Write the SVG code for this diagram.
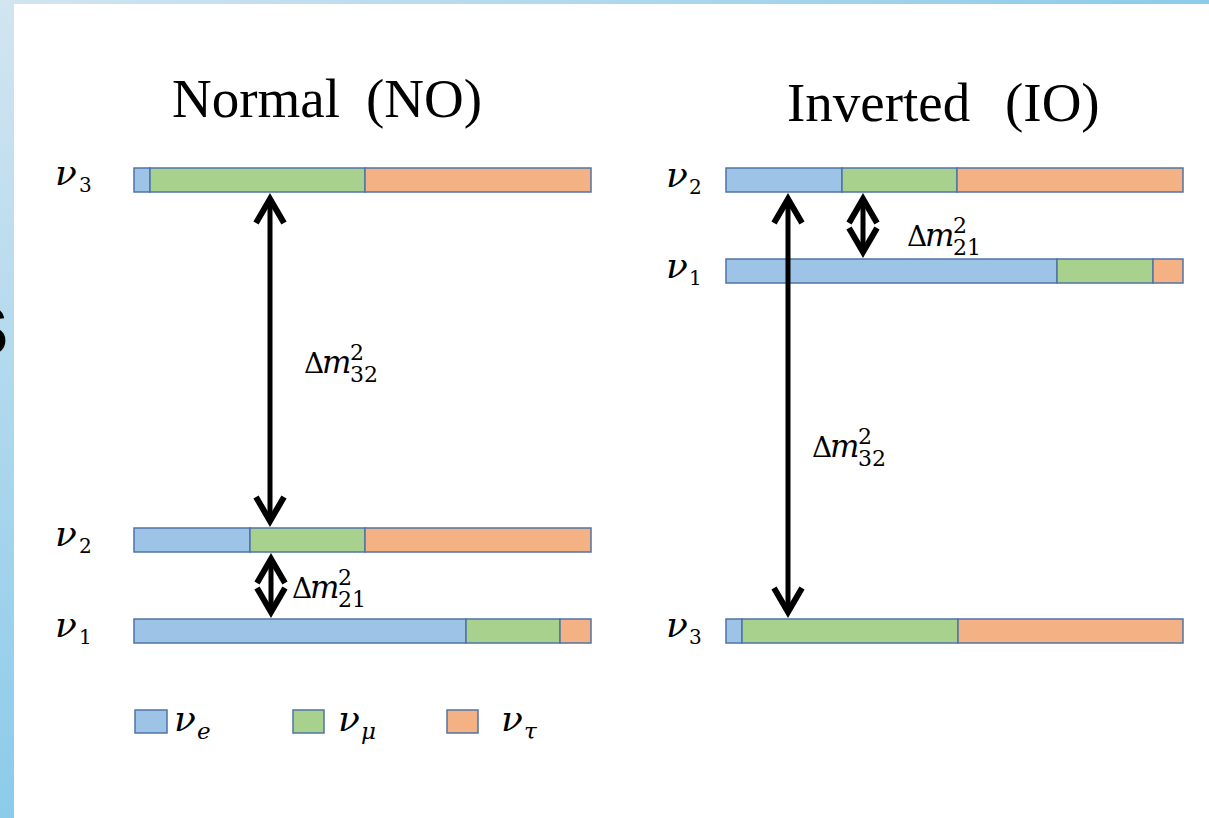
<svg xmlns="http://www.w3.org/2000/svg" width="1209" height="818" viewBox="0 0 1209 818">
<defs>
<linearGradient id="bg" x1="0" y1="0" x2="1" y2="1">
<stop offset="0" stop-color="#d2e5f0"/>
<stop offset="0.5" stop-color="#8ccbea"/>
<stop offset="1" stop-color="#6fbfe8"/>
</linearGradient>
<marker id="ah" markerUnits="userSpaceOnUse" markerWidth="44" markerHeight="44" viewBox="-36 -22 44 44" refX="0" refY="0" orient="auto-start-reverse">
<path d="M-24,-14 L0,0 L-24,14" fill="none" stroke="#000" stroke-width="6" stroke-linejoin="miter"/>
</marker>
<style>
.b{fill:#9dc3e6;stroke:#4f74a8;stroke-width:1.5}
.g{fill:#a9d18e;stroke:#4f74a8;stroke-width:1.5}
.o{fill:#f4b183;stroke:#4f74a8;stroke-width:1.5}
.title{font-family:"Liberation Serif",serif;font-size:55px;fill:#000}
.nu{font-family:"DejaVu Serif",serif;font-size:36px;font-style:italic;fill:#000}
.sub{font-family:"DejaVu Serif",serif;font-size:20px;font-style:normal;fill:#000}
.subi{font-family:"DejaVu Serif",serif;font-size:23px;font-style:italic;fill:#000}
.d{font-family:"DejaVu Serif",serif;font-size:28px;fill:#000}
.mi{font-family:"DejaVu Serif",serif;font-size:31px;font-style:italic;fill:#000}
.ds{font-family:"DejaVu Serif",serif;font-size:22px;fill:#000}
.arr{stroke:#000;stroke-width:5;fill:none;marker-start:url(#ah);marker-end:url(#ah)}
</style>
</defs>
<rect x="0" y="0" width="1209" height="818" fill="url(#bg)"/>
<rect x="14" y="4" width="1195" height="814" fill="#fff"/>
<text x="-42" y="355" font-family="Liberation Sans, sans-serif" font-weight="bold" font-size="92" fill="#000">s</text>

<text class="title" x="172" y="117">Normal</text>
<text class="title" x="366" y="117">(NO)</text>
<text class="title" x="787" y="121">Inverted</text>
<text class="title" x="1005" y="121">(IO)</text>

<g id="no-nu3">
<rect class="b" x="134" y="168" width="16" height="24"/>
<rect class="g" x="150" y="168" width="215" height="24"/>
<rect class="o" x="365" y="168" width="226" height="24"/>
<text class="nu" x="55" y="185">ν<tspan class="sub" x="79" y="192">3</tspan></text>
</g>
<g id="no-nu2">
<rect class="b" x="134" y="528" width="116" height="24"/>
<rect class="g" x="250" y="528" width="115" height="24"/>
<rect class="o" x="365" y="528" width="226" height="24"/>
<text class="nu" x="55" y="546">ν<tspan class="sub" x="79" y="553">2</tspan></text>
</g>
<g id="no-nu1">
<rect class="b" x="134" y="619" width="332" height="24"/>
<rect class="g" x="466" y="619" width="94" height="24"/>
<rect class="o" x="560" y="619" width="31" height="24"/>
<text class="nu" x="55" y="637">ν<tspan class="sub" x="79" y="644">1</tspan></text>
</g>

<g id="io-nu2">
<rect class="b" x="726" y="168" width="116" height="24"/>
<rect class="g" x="842" y="168" width="115" height="24"/>
<rect class="o" x="957" y="168" width="226" height="24"/>
<text class="nu" x="666" y="187">ν<tspan class="sub" x="689" y="194">2</tspan></text>
</g>
<g id="io-nu1">
<rect class="b" x="726" y="259" width="331" height="24"/>
<rect class="g" x="1057" y="259" width="96" height="24"/>
<rect class="o" x="1153" y="259" width="30" height="24"/>
<text class="nu" x="666" y="278">ν<tspan class="sub" x="689" y="285">1</tspan></text>
</g>
<g id="io-nu3">
<rect class="b" x="726" y="619" width="16" height="24"/>
<rect class="g" x="742" y="619" width="216" height="24"/>
<rect class="o" x="958" y="619" width="225" height="24"/>
<text class="nu" x="666" y="637">ν<tspan class="sub" x="689" y="644">3</tspan></text>
</g>

<g id="connectors">
<line class="arr" x1="270" y1="199" x2="270" y2="521"/>
<line class="arr" x1="271" y1="559" x2="271" y2="612"/>
<line class="arr" x1="788" y1="199" x2="788" y2="612"/>
<line class="arr" x1="863" y1="199" x2="863" y2="252"/>
</g>

<g id="labels">
<text class="d" x="304" y="373">Δ<tspan class="mi" x="322">m</tspan><tspan class="ds" x="350" y="360">2</tspan><tspan class="ds" x="350" y="382">32</tspan></text>
<text class="d" x="812" y="457">Δ<tspan class="mi" x="830">m</tspan><tspan class="ds" x="858" y="444">2</tspan><tspan class="ds" x="858" y="466">32</tspan></text>
<text class="d" x="292" y="598">Δ<tspan class="mi" x="310">m</tspan><tspan class="ds" x="338" y="585">2</tspan><tspan class="ds" x="338" y="607">21</tspan></text>
<text class="d" x="907" y="246">Δ<tspan class="mi" x="925">m</tspan><tspan class="ds" x="953" y="233">2</tspan><tspan class="ds" x="953" y="255">21</tspan></text>
</g>

<g id="legend-e">
<rect class="b" x="135" y="710" width="32" height="23"/>
<text class="nu" x="174" y="731">ν<tspan class="subi" x="197" y="739">e</tspan></text>
</g>
<g id="legend-mu">
<rect class="g" x="293" y="710" width="31" height="23"/>
<text class="nu" x="338" y="731">ν<tspan class="subi" x="361" y="739">μ</tspan></text>
</g>
<g id="legend-tau">
<rect class="o" x="447" y="710" width="31" height="23"/>
<text class="nu" x="501" y="731">ν<tspan class="subi" x="524" y="739">τ</tspan></text>
</g>
</svg>
